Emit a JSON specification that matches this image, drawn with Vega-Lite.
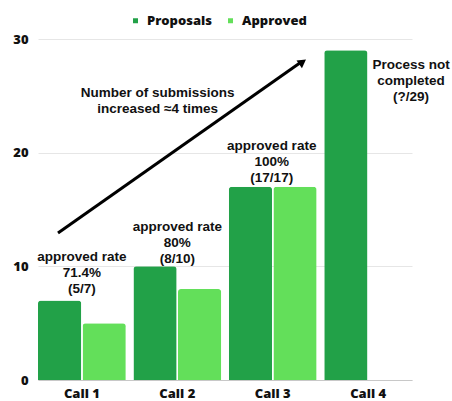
{
  "$schema": "https://vega.github.io/schema/vega-lite/v6.json",
  "width": 374,
  "height": 341,
  "autosize": {"type": "none"},
  "padding": {"left": 38, "top": 39, "right": 40, "bottom": 21},
  "background": "white",
  "config": {"view": {"stroke": null}},
  "datasets": {
    "bars": [
      {"call": "Call 1", "series": "Proposals", "value": 7},
      {"call": "Call 1", "series": "Approved", "value": 5},
      {"call": "Call 2", "series": "Proposals", "value": 10},
      {"call": "Call 2", "series": "Approved", "value": 8},
      {"call": "Call 3", "series": "Proposals", "value": 17},
      {"call": "Call 3", "series": "Approved", "value": 17},
      {"call": "Call 4", "series": "Proposals", "value": 29}
    ],
    "notes": [
      {"x": 0.47, "y": 11.4, "label": "approved rate|71.4%|(5/7)"},
      {"x": 1.49, "y": 14.1, "label": "approved rate|80%|(8/10)"},
      {"x": 2.5, "y": 21.2, "label": "approved rate|100%|(17/17)"},
      {"x": 3.99, "y": 28.3, "label": "Process not|completed|(?/29)"},
      {"x": 1.28, "y": 25.9, "label": "Number of submissions|increased ≈4 times"}
    ],
    "arrow": [
      {"x": 0.214, "y": 12.93},
      {"x": 2.8, "y": 27.88}
    ],
    "head": [
      {"x": 2.83, "y": 27.98}
    ]
  },
  "layer": [
    {
      "data": {"name": "bars"},
      "mark": {"type": "bar", "cornerRadiusTopLeft": 3, "cornerRadiusTopRight": 3},
      "encoding": {
        "x": {
          "field": "call", "type": "nominal",
          "scale": {"paddingInner": 0.08, "paddingOuter": 0},
          "axis": {"title": null, "labelAngle": 0, "ticks": false, "domainColor": "#c8c8c8", "labelFont": "Open Sans", "labelFontWeight": 800, "labelFontSize": 13, "labelColor": "#111", "labelPadding": 7, "grid": false}
        },
        "xOffset": {"field": "series", "type": "nominal", "sort": ["Proposals", "Approved"], "scale": {"paddingInner": 0.03}},
        "y": {
          "field": "value", "type": "quantitative",
          "scale": {"domain": [0, 30]},
          "axis": {"title": null, "values": [0, 10, 20, 30], "ticks": false, "domain": false, "gridColor": "#e6e6e6", "labelFont": "Open Sans", "labelFontWeight": 800, "labelFontSize": 13, "labelColor": "#111", "labelPadding": 10}
        },
        "color": {
          "field": "series", "type": "nominal",
          "sort": ["Proposals", "Approved"],
          "scale": {"domain": ["Proposals", "Approved"], "range": ["#22a148", "#63df5a"]},
          "legend": {"title": null, "orient": "none", "direction": "horizontal", "legendX": 91, "legendY": -25, "symbolType": "square", "symbolSize": 25, "symbolStrokeWidth": 0, "labelFont": "Open Sans", "labelFontWeight": 800, "labelFontSize": 13, "labelColor": "#111", "columnPadding": 12, "labelOffset": 5}
        }
      }
    },
    {
      "data": {"name": "arrow"},
      "mark": {"type": "line", "color": "#000", "strokeWidth": 3},
      "encoding": {
        "x": {"field": "x", "type": "quantitative", "scale": {"domain": [0, 4], "nice": false, "zero": false}, "axis": null},
        "y": {"field": "y", "type": "quantitative", "title": null}
      }
    },
    {
      "data": {"name": "head"},
      "mark": {"type": "point", "shape": "triangle-up", "filled": true, "color": "#000", "size": 90, "angle": 55, "opacity": 1},
      "encoding": {
        "x": {"field": "x", "type": "quantitative", "scale": {"domain": [0, 4], "nice": false, "zero": false}, "axis": null},
        "y": {"field": "y", "type": "quantitative", "title": null}
      }
    },
    {
      "data": {"name": "notes"},
      "mark": {"type": "text", "lineBreak": "|", "baseline": "top", "align": "center", "font": "Liberation Sans", "fontWeight": "bold", "fontSize": 13.5, "lineHeight": 16, "color": "#111"},
      "encoding": {
        "x": {"field": "x", "type": "quantitative", "scale": {"domain": [0, 4], "nice": false, "zero": false}, "axis": null},
        "y": {"field": "y", "type": "quantitative", "title": null},
        "text": {"field": "label"}
      }
    }
  ],
  "resolve": {"scale": {"x": "independent"}, "axis": {"x": "independent"}}
}
